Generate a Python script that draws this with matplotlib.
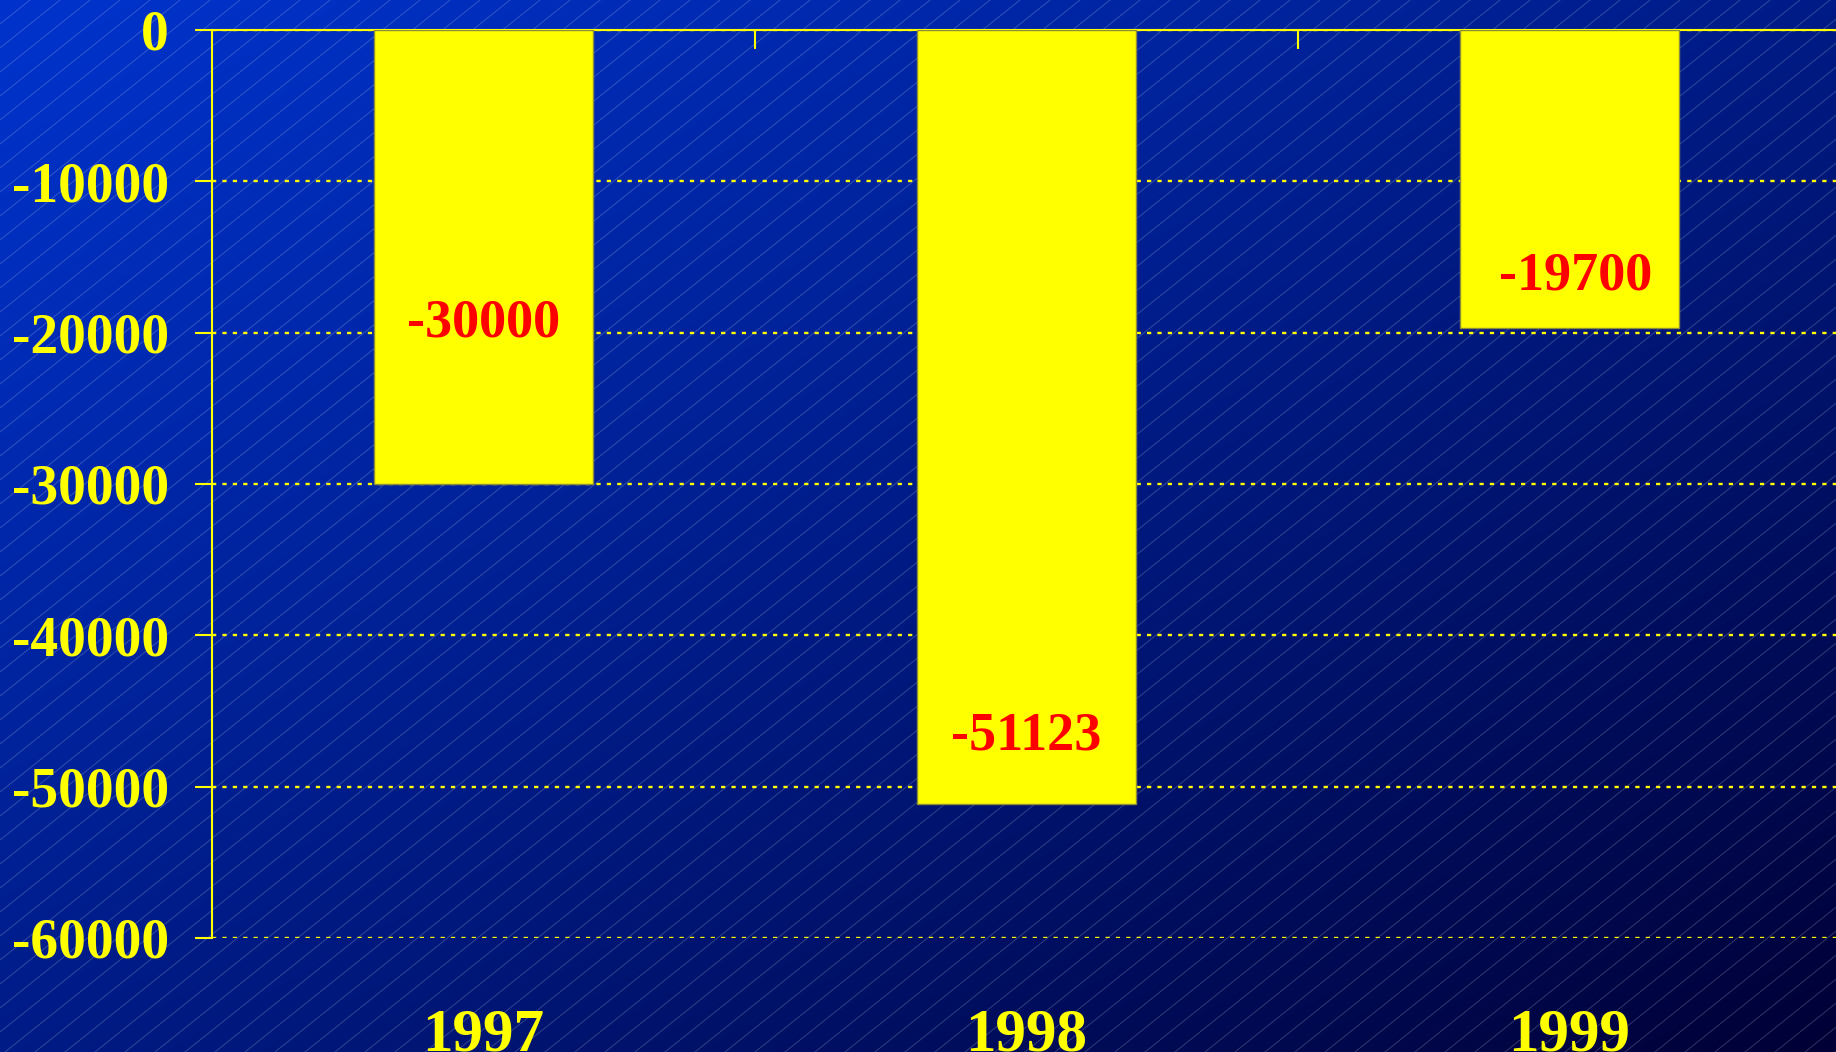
import numpy as np
import matplotlib
matplotlib.use("Agg")
import matplotlib.pyplot as plt
from matplotlib.collections import LineCollection

# ---- data ----
years = ["1997", "1998", "1999"]
values = [-30000, -51123, -19700]
value_labels = ["-30000", "-51123", "-19700"]
yticks = [0, -10000, -20000, -30000, -40000, -50000, -60000]
ytick_labels = ["0", "-10000", "-20000", "-30000", "-40000", "-50000", "-60000"]

# layout: label heights (data units) as placed in the original
label_y = [-19400, -46700, -16300]
label_dx = [0.0, 0.0, 0.012]

W, H = 1836, 1052
DPI = 100
fig = plt.figure(figsize=(W / DPI, H / DPI), dpi=DPI)

# ---- background gradient with diagonal hairlines ----
bg = fig.add_axes([0, 0, 1, 1], zorder=-10)
bg.set_xlim(0, W)
bg.set_ylim(H, 0)
bg.axis("off")
xx, yy = np.meshgrid(np.linspace(0, 1, 400), np.linspace(0, 1, 240))
t = (xx + yy) / 2.0
t = t ** 1.1
c0 = np.array([0x00, 0x33, 0xCC]) / 255.0
c1 = np.array([0x00, 0x00, 0x36]) / 255.0
img = c0[None, None, :] * (1 - t[..., None]) + c1[None, None, :] * t[..., None]
bg.imshow(img, extent=[0, W, H, 0], aspect="auto", interpolation="bilinear")
slope = 0.8
spacing_x = 30.0
segs = []
c = 0.0
while c < H + slope * W + 50:
    segs.append([(0.0, c), (W, c - slope * W)])
    c += spacing_x * slope
bg.add_collection(LineCollection(segs, colors=(1, 1, 1, 0.2), linewidths=0.7))

# ---- main axes ----
left_px, top_px, bottom_px = 212, 30, 938
cat_w = 543
ax = fig.add_axes([left_px / W, 1 - bottom_px / H, 3 * cat_w / W, (bottom_px - top_px) / H])
ax.set_facecolor("none")

x = np.arange(len(years))
ax.bar(x, values, width=0.405, color="#FFFF00", edgecolor="#8C8C3A", linewidth=1.0, zorder=3)

for xi, dx, ly, lab in zip(x, label_dx, label_y, value_labels):
    ax.text(xi + dx, ly, lab, ha="center", va="center", color="#FF0000",
            fontsize=39, fontweight="bold", family="Liberation Serif", zorder=4)

ax.set_xlim(-0.5, 2.5)
ax.set_ylim(-60000, 0)

ax.set_yticks(yticks)
ax.set_yticklabels(ytick_labels)
ax.yaxis.grid(True, color="#FFFF00", linewidth=1.7, linestyle=(0, (1.8, 2.6)), zorder=1)
ax.set_axisbelow(True)

ax.set_xticks(x)
ax.set_xticklabels(years)
ax.set_xticks([0.5, 1.5], minor=True)

for s in ["bottom", "right"]:
    ax.spines[s].set_visible(False)
for s in ["top", "left"]:
    ax.spines[s].set_color("#FFFF00")
    ax.spines[s].set_linewidth(1.5)

ax.tick_params(axis="y", which="major", direction="out", length=12, width=1.5,
               color="#FFFF00", pad=19, labelcolor="#FFFF00")
ax.tick_params(axis="x", which="major", length=0, pad=50, labelcolor="#FFFF00")
ax.tick_params(axis="x", which="minor", top=True, bottom=False, direction="in",
               length=14, width=1.5, color="#FFFF00")

for lab in ax.get_yticklabels():
    lab.set_fontfamily("Liberation Serif")
    lab.set_fontweight("bold")
    lab.set_fontsize(40)
for lab in ax.get_xticklabels():
    lab.set_fontfamily("Liberation Serif")
    lab.set_fontweight("bold")
    lab.set_fontsize(44)

fig.savefig("out.png", dpi=DPI)
